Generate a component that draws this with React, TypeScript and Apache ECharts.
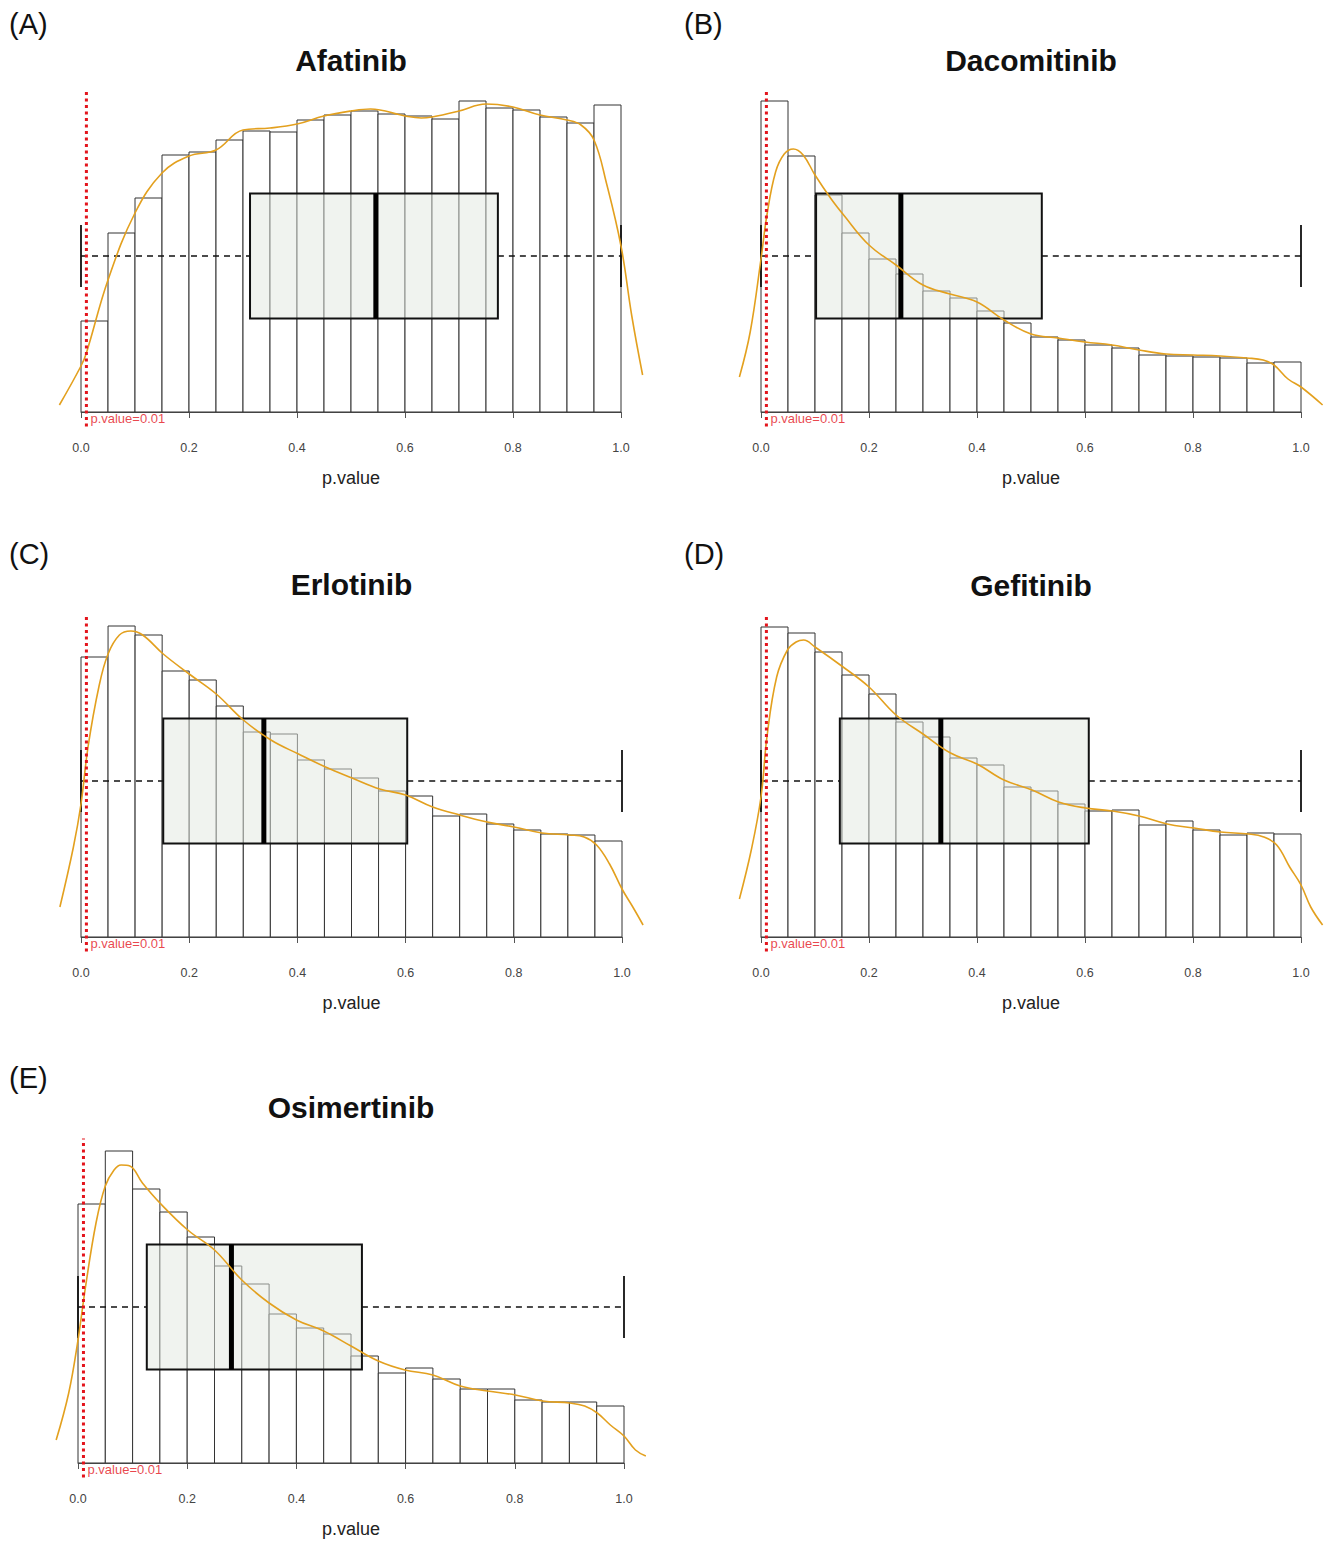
import React, { useEffect, useRef } from 'react';
import * as echarts from 'echarts';

// ---------- data ----------
const panelLetters = ['(A)', '(B)', '(C)', '(D)', '(E)'];
const drugNames = ['Afatinib', 'Dacomitinib', 'Erlotinib', 'Gefitinib', 'Osimertinib'];
const tickLabels = ['0.0', '0.2', '0.4', '0.6', '0.8', '1.0'];
const binStarts = [0, 0.05, 0.1, 0.15, 0.2, 0.25, 0.3, 0.35, 0.4, 0.45, 0.5, 0.55, 0.6, 0.65, 0.7, 0.75, 0.8, 0.85, 0.9, 0.95];
const binWidth = 0.05;
const cutoff = 0.01;
const cutoffLabel = 'p.value=0.01';
const xLabel = 'p.value';

// histogram heights (relative frequency units)
const afatinibCounts = [91, 179, 214, 257, 260, 272, 281, 280, 292, 297, 301, 298, 296, 293, 311, 304, 302, 295, 289, 307];
const dacomitinibCounts = [311, 256, 217, 179, 153, 138, 121, 114, 101, 89, 75, 72, 67, 64, 57, 56, 55, 54, 49, 50];
const erlotinibCounts = [280, 311, 302, 266, 257, 231, 205, 203, 177, 168, 159, 146, 141, 121, 123, 113, 107, 103, 102, 96];
const gefitinibCounts = [310, 304, 285, 262, 243, 215, 200, 179, 172, 150, 146, 133, 126, 127, 112, 116, 107, 102, 104, 103];
const osimertinibCounts = [259, 312, 274, 251, 226, 197, 179, 149, 135, 129, 107, 90, 95, 84, 74, 74, 63, 61, 61, 57];

// boxplot stats: [lower whisker, Q1, median, Q3, upper whisker]
const afatinibBox = [0, 0.313, 0.546, 0.772, 1.0];
const dacomitinibBox = [0, 0.102, 0.259, 0.52, 1.0];
const erlotinibBox = [0, 0.152, 0.338, 0.603, 1.0];
const gefitinibBox = [0, 0.146, 0.333, 0.607, 1.0];
const osimertinibBox = [0, 0.126, 0.281, 0.52, 1.0];

// density curves (x, scaled density)
const afatinibDensX = [-0.04, 0, 0.01, 0.05, 0.1, 0.15, 0.2, 0.25, 0.3, 0.35, 0.4, 0.45, 0.5, 0.536, 0.6, 0.63, 0.65, 0.7, 0.75, 0.8, 0.85, 0.9, 0.926, 0.95, 0.973, 1.0, 1.02, 1.04];
const afatinibDensY = [7, 46, 59, 132, 199, 239, 256, 262, 282, 284, 288, 296, 301, 303, 296, 294, 295, 301, 308, 305, 297, 292, 287, 272, 229, 166, 96, 37];
const dacomitinibDensX = [-0.04, -0.02, 0, 0.011, 0.027, 0.043, 0.06, 0.078, 0.1, 0.13, 0.153, 0.2, 0.25, 0.3, 0.35, 0.4, 0.45, 0.5, 0.55, 0.6, 0.65, 0.7, 0.75, 0.8, 0.85, 0.9, 0.93, 0.95, 0.976, 1.0, 1.04];
const dacomitinibDensY = [35, 80, 153, 197, 240, 258, 263, 257, 237, 213, 197, 167, 147, 127, 118, 110, 92, 78, 74, 70, 67, 62, 58, 57, 56, 54, 52, 47, 33, 25, 7];
const erlotinibDensX = [-0.039, -0.014, 0, 0.013, 0.033, 0.05, 0.071, 0.092, 0.114, 0.152, 0.2, 0.25, 0.3, 0.351, 0.402, 0.452, 0.501, 0.552, 0.6, 0.65, 0.7, 0.751, 0.8, 0.852, 0.903, 0.93, 0.953, 0.977, 1.0, 1.02, 1.039];
const erlotinibDensY = [30, 90, 133, 190, 250, 283, 302, 306, 302, 283, 263, 243, 217, 197, 183, 170, 159, 148, 142, 130, 122, 115, 110, 104, 102, 100, 92, 73, 48, 30, 12];
const gefitinibDensX = [-0.04, -0.018, 0, 0.011, 0.029, 0.049, 0.065, 0.079, 0.1, 0.152, 0.2, 0.25, 0.3, 0.351, 0.4, 0.45, 0.502, 0.551, 0.601, 0.651, 0.7, 0.752, 0.802, 0.851, 0.903, 0.931, 0.955, 0.979, 1.0, 1.018, 1.04];
const gefitinibDensY = [38, 87, 140, 200, 260, 287, 295, 297, 290, 270, 250, 222, 203, 184, 173, 157, 147, 135, 129, 126, 121, 113, 109, 105, 103, 100, 92, 70, 52, 30, 12];
const osimertinibDensX = [-0.04, -0.017, 0, 0.014, 0.033, 0.05, 0.066, 0.079, 0.095, 0.118, 0.15, 0.201, 0.25, 0.3, 0.35, 0.4, 0.45, 0.5, 0.55, 0.599, 0.65, 0.7, 0.75, 0.801, 0.851, 0.901, 0.928, 0.951, 0.975, 1.0, 1.021, 1.04];
const osimertinibDensY = [23, 70, 123, 177, 240, 277, 293, 298, 297, 280, 260, 233, 213, 183, 160, 143, 132, 117, 102, 93, 88, 77, 72, 68, 62, 60, 57, 50, 38, 27, 13, 7];

const allCounts = [afatinibCounts, dacomitinibCounts, erlotinibCounts, gefitinibCounts, osimertinibCounts];
const allBoxes = [afatinibBox, dacomitinibBox, erlotinibBox, gefitinibBox, osimertinibBox];
const allDensX = [afatinibDensX, dacomitinibDensX, erlotinibDensX, gefitinibDensX, osimertinibDensX];
const allDensY = [afatinibDensY, dacomitinibDensY, erlotinibDensY, gefitinibDensY, osimertinibDensY];

// ---------- layout ----------
const W = 1331;
const H = 1542;
const panelLayout = [
  { left: 81, width: 540, baseline: 412, letterX: 9, letterY: 24, titleY: 60 },
  { left: 761, width: 540, baseline: 412, letterX: 684, letterY: 24, titleY: 60 },
  { left: 81, width: 541, baseline: 937, letterX: 9, letterY: 554, titleY: 584 },
  { left: 761, width: 540, baseline: 937, letterX: 684, letterY: 554, titleY: 585 },
  { left: 78, width: 546, baseline: 1463, letterX: 9, letterY: 1078, titleY: 1107 },
];
const X_PAD = 0.05; // extra data range on each side so the density tails can show
const BOX_CENTER = 156;
const BOX_HALF = 62.5;
const CAP_HALF = 31;
const FONT = '"Liberation Sans", Arial, Helvetica, sans-serif';

function buildOption() {
  const grid: any[] = [];
  const xAxis: any[] = [];
  const yAxis: any[] = [];
  const series: any[] = [];
  const graphic: any[] = [];

  allCounts.forEach((counts, i) => {
    const L = panelLayout[i];
    const maxC = Math.max(...counts);
    const yMax = maxC * 1.04;
    const yMin = -maxC * 0.04;
    const h = yMax - yMin;
    const top = L.baseline - yMax;
    const dataGrid = 2 * i;
    const axisGrid = 2 * i + 1;

    // data grid (wider x range)
    grid.push({ left: L.left - X_PAD * L.width, width: L.width * (1 + 2 * X_PAD), top, height: h, containLabel: false });
    // axis grid (exactly 0..1)
    grid.push({ left: L.left, width: L.width, top, height: h, containLabel: false });

    xAxis.push({
      gridIndex: dataGrid,
      type: 'value',
      min: -X_PAD,
      max: 1 + X_PAD,
      show: false,
      splitLine: { show: false },
    });
    xAxis.push({
      gridIndex: axisGrid,
      type: 'value',
      min: 0,
      max: 1,
      interval: 0.2,
      name: xLabel,
      nameLocation: 'middle',
      nameGap: 45,
      nameTextStyle: { fontFamily: FONT, fontSize: 18, color: '#222' },
      axisLine: { show: true, lineStyle: { color: '#555', width: 1 } },
      axisTick: { show: true, length: 6, lineStyle: { color: '#555' } },
      axisLabel: {
        fontFamily: FONT,
        fontSize: 12.5,
        color: '#444',
        margin: 17,
        formatter: (v: number) => tickLabels[Math.round(v / 0.2)],
      },
      splitLine: { show: false },
    });
    yAxis.push({ gridIndex: dataGrid, type: 'value', min: yMin, max: yMax, show: false, splitLine: { show: false } });
    yAxis.push({ gridIndex: axisGrid, type: 'value', min: yMin, max: yMax, show: false, splitLine: { show: false } });

    const xi = 2 * i;
    const yi = 2 * i;

    // histogram
    series.push({
      type: 'custom',
      xAxisIndex: xi,
      yAxisIndex: yi,
      z: 1,
      data: binStarts.map((b, k) => [b, b + binWidth, counts[k]]),
      renderItem: (params: any, api: any) => {
        const p0 = api.coord([api.value(0), api.value(2)]);
        const p1 = api.coord([api.value(1), 0]);
        return {
          type: 'rect',
          shape: { x: p0[0], y: p0[1], width: p1[0] - p0[0], height: p1[1] - p0[1] },
          style: { fill: '#ffffff', stroke: '#333333', lineWidth: 1 },
        };
      },
    });

    // boxplot
    series.push({
      type: 'custom',
      xAxisIndex: xi,
      yAxisIndex: yi,
      z: 2,
      data: [allBoxes[i]],
      renderItem: (params: any, api: any) => {
        const lo = api.value(0), q1 = api.value(1), md = api.value(2), q3 = api.value(3), hi = api.value(4);
        const c = BOX_CENTER;
        const a = api.coord([lo, c]);
        const b = api.coord([q1, c]);
        const d = api.coord([q3, c]);
        const e = api.coord([hi, c]);
        const loTop = api.coord([lo, c + CAP_HALF]);
        const loBot = api.coord([lo, c - CAP_HALF]);
        const hiTop = api.coord([hi, c + CAP_HALF]);
        const hiBot = api.coord([hi, c - CAP_HALF]);
        const boxTL = api.coord([q1, c + BOX_HALF]);
        const boxBR = api.coord([q3, c - BOX_HALF]);
        const mTop = api.coord([md, c + BOX_HALF]);
        const mBot = api.coord([md, c - BOX_HALF]);
        const dash = { stroke: '#111', lineWidth: 1.6, lineDash: [6, 5] };
        return {
          type: 'group',
          children: [
            { type: 'line', shape: { x1: a[0], y1: a[1], x2: b[0], y2: b[1] }, style: dash },
            { type: 'line', shape: { x1: d[0], y1: d[1], x2: e[0], y2: e[1] }, style: dash },
            { type: 'line', shape: { x1: loTop[0], y1: loTop[1], x2: loBot[0], y2: loBot[1] }, style: { stroke: '#111', lineWidth: 1.8 } },
            { type: 'line', shape: { x1: hiTop[0], y1: hiTop[1], x2: hiBot[0], y2: hiBot[1] }, style: { stroke: '#111', lineWidth: 1.8 } },
            {
              type: 'rect',
              shape: { x: boxTL[0], y: boxTL[1], width: boxBR[0] - boxTL[0], height: boxBR[1] - boxTL[1] },
              style: { fill: 'rgba(226,232,224,0.5)', stroke: '#111', lineWidth: 2 },
            },
            { type: 'line', shape: { x1: mTop[0], y1: mTop[1], x2: mBot[0], y2: mBot[1] }, style: { stroke: '#000', lineWidth: 5 } },
          ],
        };
      },
    });

    // density
    series.push({
      type: 'line',
      xAxisIndex: xi,
      yAxisIndex: yi,
      z: 3,
      clip: false,
      smooth: 0.4,
      showSymbol: false,
      symbol: 'none',
      lineStyle: { color: '#E3A01E', width: 1.6 },
      data: allDensX[i].map((x, k) => [x, allDensY[i][k]]),
    });

    // cutoff line
    series.push({
      type: 'line',
      xAxisIndex: xi,
      yAxisIndex: yi,
      z: 4,
      clip: false,
      symbol: 'none',
      lineStyle: { color: '#E3141C', width: 3, type: [3, 3.5], cap: 'butt' },
      data: [[cutoff, yMin - 2], [cutoff, yMax]],
    });

    // cutoff label
    series.push({
      type: 'scatter',
      xAxisIndex: xi,
      yAxisIndex: yi,
      z: 5,
      symbolSize: 0,
      clip: false,
      data: [[cutoff, -maxC * 0.022]],
      label: {
        show: true,
        position: 'right',
        distance: 4,
        formatter: cutoffLabel,
        fontFamily: FONT,
        fontSize: 13,
        color: '#E3141C',
      },
    });

    // panel letter & title
    graphic.push({
      type: 'text',
      x: L.letterX,
      y: L.letterY,
      style: { text: panelLetters[i], font: `29px ${FONT}`, fill: '#111', textVerticalAlign: 'middle', textAlign: 'left' },
    });
    graphic.push({
      type: 'text',
      x: L.left + L.width / 2,
      y: L.titleY,
      style: { text: drugNames[i], font: `bold 30px ${FONT}`, fill: '#111', textVerticalAlign: 'middle', textAlign: 'center' },
    });
  });

  return {
    animation: false,
    backgroundColor: '#ffffff',
    grid,
    xAxis,
    yAxis,
    series,
    graphic,
  };
}

export default function App() {
  const ref = useRef<HTMLDivElement>(null);
  useEffect(() => {
    if (!ref.current) return;
    const chart = echarts.init(ref.current, undefined, { renderer: 'svg', width: W, height: H });
    chart.setOption(buildOption() as any);
    return () => chart.dispose();
  }, []);
  return (
    <div
      ref={ref}
      style={{ position: 'absolute', left: 0, top: 0, width: W, height: H, background: '#fff' }}
    />
  );
}
